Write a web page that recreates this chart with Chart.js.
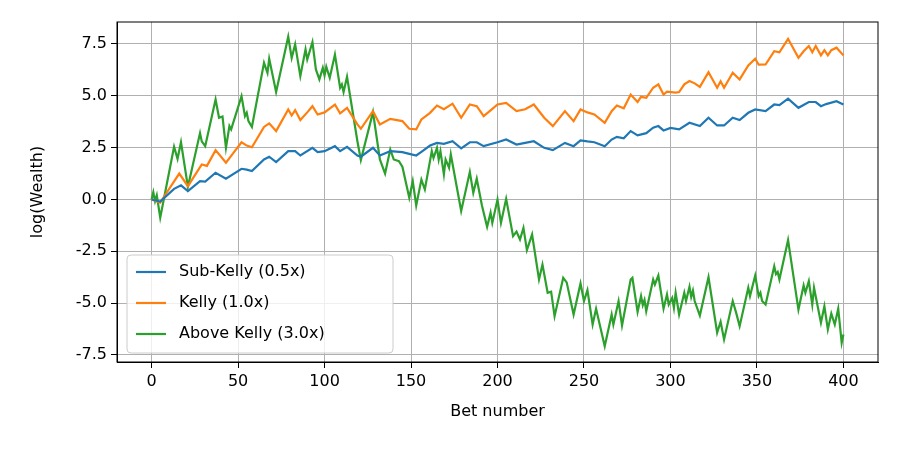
<!DOCTYPE html>
<html>
<head>
<meta charset="utf-8">
<script src="https://cdn.jsdelivr.net/npm/chart.js@4"></script>
<style>
  body { margin: 0; background: #fff; }
  #wrap { width: 900px; height: 450px; }
</style>
</head>
<body>
<div id="wrap"><canvas id="chart" width="900" height="450"></canvas></div>
<script>
// vertices (bet number, log wealth)
const subX = [0,5,13,17,21,28,31,37,43,52,55,58,65,68,72,79,83,86,93,96,100,106,109,113,119,121,128,132,138,145,149,153,156,161,165,169,174,179,184,188,192,200,205,211,216,221,227,232,239,244,248,252,256,262,266,269,273,277,281,286,290,293,296,300,305,311,317,322,327,331,336,340,345,349,355,360,363,368,374,380,384,387,390,396,400];
const subY = [0,-0.1,0.51,0.68,0.4,0.88,0.86,1.29,1.0,1.48,1.44,1.37,1.93,2.06,1.8,2.33,2.33,2.12,2.49,2.28,2.33,2.57,2.33,2.54,2.12,2.06,2.49,2.12,2.33,2.28,2.2,2.12,2.3,2.6,2.73,2.68,2.81,2.46,2.76,2.76,2.57,2.76,2.89,2.65,2.73,2.81,2.49,2.38,2.73,2.57,2.85,2.8,2.76,2.57,2.89,3.02,2.95,3.3,3.09,3.2,3.46,3.54,3.33,3.45,3.38,3.7,3.54,3.94,3.57,3.57,3.94,3.83,4.18,4.34,4.26,4.58,4.55,4.86,4.42,4.7,4.7,4.5,4.6,4.74,4.58];

const kellyX = [0,5,8,16,21,29,32,37,43,46,52,55,58,65,68,72,79,81,83,86,90,93,96,100,106,109,113,119,121,128,132,138,145,149,153,156,161,165,169,174,179,184,188,192,196,200,205,211,216,221,227,232,239,244,248,252,256,262,266,269,273,277,281,283,286,290,293,296,298,303,305,308,311,314,317,322,327,329,331,336,340,345,349,351,355,360,363,368,374,377,380,382,384,387,389,391,393,396,400];
const kellyY = [0,-0.15,0.24,1.25,0.64,1.69,1.62,2.38,1.77,2.1,2.76,2.6,2.52,3.5,3.67,3.3,4.34,4.05,4.31,3.83,4.2,4.5,4.1,4.2,4.58,4.15,4.42,3.62,3.41,4.26,3.62,3.89,3.78,3.41,3.38,3.86,4.18,4.53,4.35,4.62,3.94,4.58,4.5,4.02,4.3,4.58,4.66,4.26,4.35,4.58,3.94,3.54,4.26,3.78,4.34,4.2,4.1,3.7,4.26,4.53,4.4,5.06,4.7,4.95,4.9,5.39,5.55,5.06,5.2,5.15,5.18,5.55,5.71,5.6,5.43,6.14,5.39,5.7,5.39,6.11,5.79,6.46,6.79,6.5,6.51,7.15,7.1,7.75,6.83,7.15,7.4,7.1,7.4,6.95,7.2,6.95,7.2,7.32,6.95];

const aboveX = [0,1,2,3,5,13,15,17,21,28,29,31,37,39,41,43,45,46,52,54,55,56,58,65,67,68,72,79,81,83,86,89,90,93,95,97,99,100,101,103,106,109,110,111,113,119,121,128,132,135,138,140,143,145,149,151,153,156,158,162,163,165,166,167,169,170,172,173,179,184,186,188,191,194,196,197,200,202,205,209,211,213,215,217,220,224,226,229,231,233,238,240,244,248,250,252,255,257,262,266,267,270,272,277,278,281,283,284,285,286,290,291,293,296,298,299,301,302,303,305,308,309,311,312,313,314,317,322,327,329,331,336,338,340,345,346,349,351,352,353,355,360,361,362,363,368,374,377,378,380,382,383,387,389,391,393,395,397,399,400];
const aboveY = [0,0.35,-0.08,0.2,-0.88,2.54,1.96,2.76,0.61,3.2,2.8,2.57,4.82,3.94,4.0,2.49,3.54,3.38,4.98,4.02,4.18,3.78,3.5,6.59,6.11,6.79,5.18,7.85,6.83,7.48,5.95,7.24,6.75,7.59,6.27,5.79,6.35,5.98,6.4,5.87,6.99,5.39,5.55,5.18,5.92,2.81,1.9,4.21,1.93,1.25,2.41,1.93,1.85,1.58,0.08,0.88,-0.29,0.96,0.48,2.33,2.0,2.49,1.93,2.33,1.21,1.93,1.53,2.17,-0.56,1.32,0.32,1.0,-0.29,-1.32,-0.64,-1.13,0,-1.13,0.03,-1.77,-1.55,-1.93,-1.37,-2.44,-1.69,-3.86,-3.14,-4.5,-4.45,-5.63,-3.78,-4.0,-5.55,-4.05,-4.9,-4.37,-6.03,-5.27,-7.08,-5.55,-6.03,-4.9,-6.08,-3.86,-3.78,-5.43,-4.66,-5.1,-4.85,-5.39,-3.86,-4.1,-3.67,-5.27,-4.58,-5.07,-4.75,-5.23,-4.5,-5.55,-4.5,-4.9,-4.21,-4.7,-4.4,-4.9,-5.6,-3.75,-6.43,-5.9,-6.75,-4.9,-5.47,-6.11,-4.26,-4.66,-3.67,-4.66,-4.5,-4.9,-5.07,-3.22,-3.6,-3.5,-3.86,-1.96,-5.31,-4.15,-4.5,-3.94,-5.07,-4.26,-5.95,-5.15,-6.27,-5.5,-6.03,-5.27,-6.91,-6.51];

const yTicks = [-7.5, -5.0, -2.5, 0.0, 2.5, 5.0, 7.5];
const xTicks = [0, 50, 100, 150, 200, 250, 300, 350, 400];
const seriesNames = ['Sub-Kelly (0.5x)', 'Kelly (1.0x)', 'Above Kelly (3.0x)'];
const seriesColors = ['#1f77b4', '#ff7f0e', '#2ca02c'];

function toPoints(xs, ys) {
    return xs.map((x, i) => ({ x: x, y: ys[i] }));
}

const FONT = 'DejaVu Sans';

// legend box drawn inside the plot, lower left, like matplotlib's
const boxLegend = {
    id: 'boxLegend',
    afterDatasetsDraw(chart) {
        const ctx = chart.ctx;
        const area = chart.chartArea;
        const x0 = area.left + 10, y0 = area.bottom - 107, w = 266, h = 98;
        ctx.save();
        ctx.fillStyle = 'rgba(255,255,255,0.8)';
        ctx.strokeStyle = '#cccccc';
        ctx.lineWidth = 1;
        ctx.beginPath();
        ctx.roundRect(x0, y0, w, h, 4);
        ctx.fill();
        ctx.stroke();
        ctx.font = '16px "' + FONT + '"';
        ctx.textBaseline = 'middle';
        seriesNames.forEach((name, i) => {
            const yy = y0 + 17 + i * 31;
            ctx.strokeStyle = seriesColors[i];
            ctx.lineWidth = 2.2;
            ctx.beginPath();
            ctx.moveTo(x0 + 9, yy);
            ctx.lineTo(x0 + 39, yy);
            ctx.stroke();
            ctx.fillStyle = '#000';
            ctx.fillText(name, x0 + 52, yy);
        });
        ctx.restore();
    }
};

new Chart(document.getElementById('chart'), {
    type: 'line',
    data: {
        datasets: [
            { label: seriesNames[0], data: toPoints(subX, subY), borderColor: seriesColors[0], borderWidth: 2.2 },
            { label: seriesNames[1], data: toPoints(kellyX, kellyY), borderColor: seriesColors[1], borderWidth: 2.2 },
            { label: seriesNames[2], data: toPoints(aboveX, aboveY), borderColor: seriesColors[2], borderWidth: 2.2 }
        ]
    },
    options: {
        responsive: false,
        animation: false,
        elements: { point: { radius: 0 }, line: { tension: 0 } },
        layout: { padding: { left: 24, right: 22, top: 22, bottom: 25 } },
        plugins: { legend: { display: false }, tooltip: { enabled: false } },
        scales: {
            x: {
                type: 'linear',
                min: -20, max: 420,
                afterBuildTicks: axis => { axis.ticks = xTicks.map(v => ({ value: v })); },
                afterFit: axis => { axis.height = 63; },
                grid: { color: '#b0b0b0', lineWidth: 1, tickLength: 6, tickColor: '#000' },
                border: { color: '#000', width: 1 },
                ticks: { color: '#000', font: { family: FONT, size: 16 }, padding: 4, maxRotation: 0 },
                title: { display: true, text: 'Bet number', color: '#000', font: { family: FONT, size: 16 }, padding: { top: 4 } }
            },
            y: {
                min: -7.84, max: 8.56,
                afterBuildTicks: axis => { axis.ticks = yTicks.map(v => ({ value: v })); },
                afterFit: axis => { axis.width = 93; },
                grid: { color: '#b0b0b0', lineWidth: 1, tickLength: 6, tickColor: '#000' },
                border: { color: '#000', width: 1 },
                ticks: { color: '#000', font: { family: FONT, size: 16 }, padding: 4, callback: v => v.toFixed(1) },
                title: { display: true, text: 'log(Wealth)', color: '#000', font: { family: FONT, size: 16 }, padding: { bottom: 6 } }
            }
        }
    },
    plugins: [boxLegend, {
        id: 'frame',
        afterDraw(chart) {
            const a = chart.chartArea, ctx = chart.ctx;
            ctx.save();
            ctx.strokeStyle = '#000';
            ctx.lineWidth = 1;
            ctx.strokeRect(a.left, a.top, a.right - a.left, a.bottom - a.top);
            ctx.restore();
        }
    }]
});
</script>
</body>
</html>
